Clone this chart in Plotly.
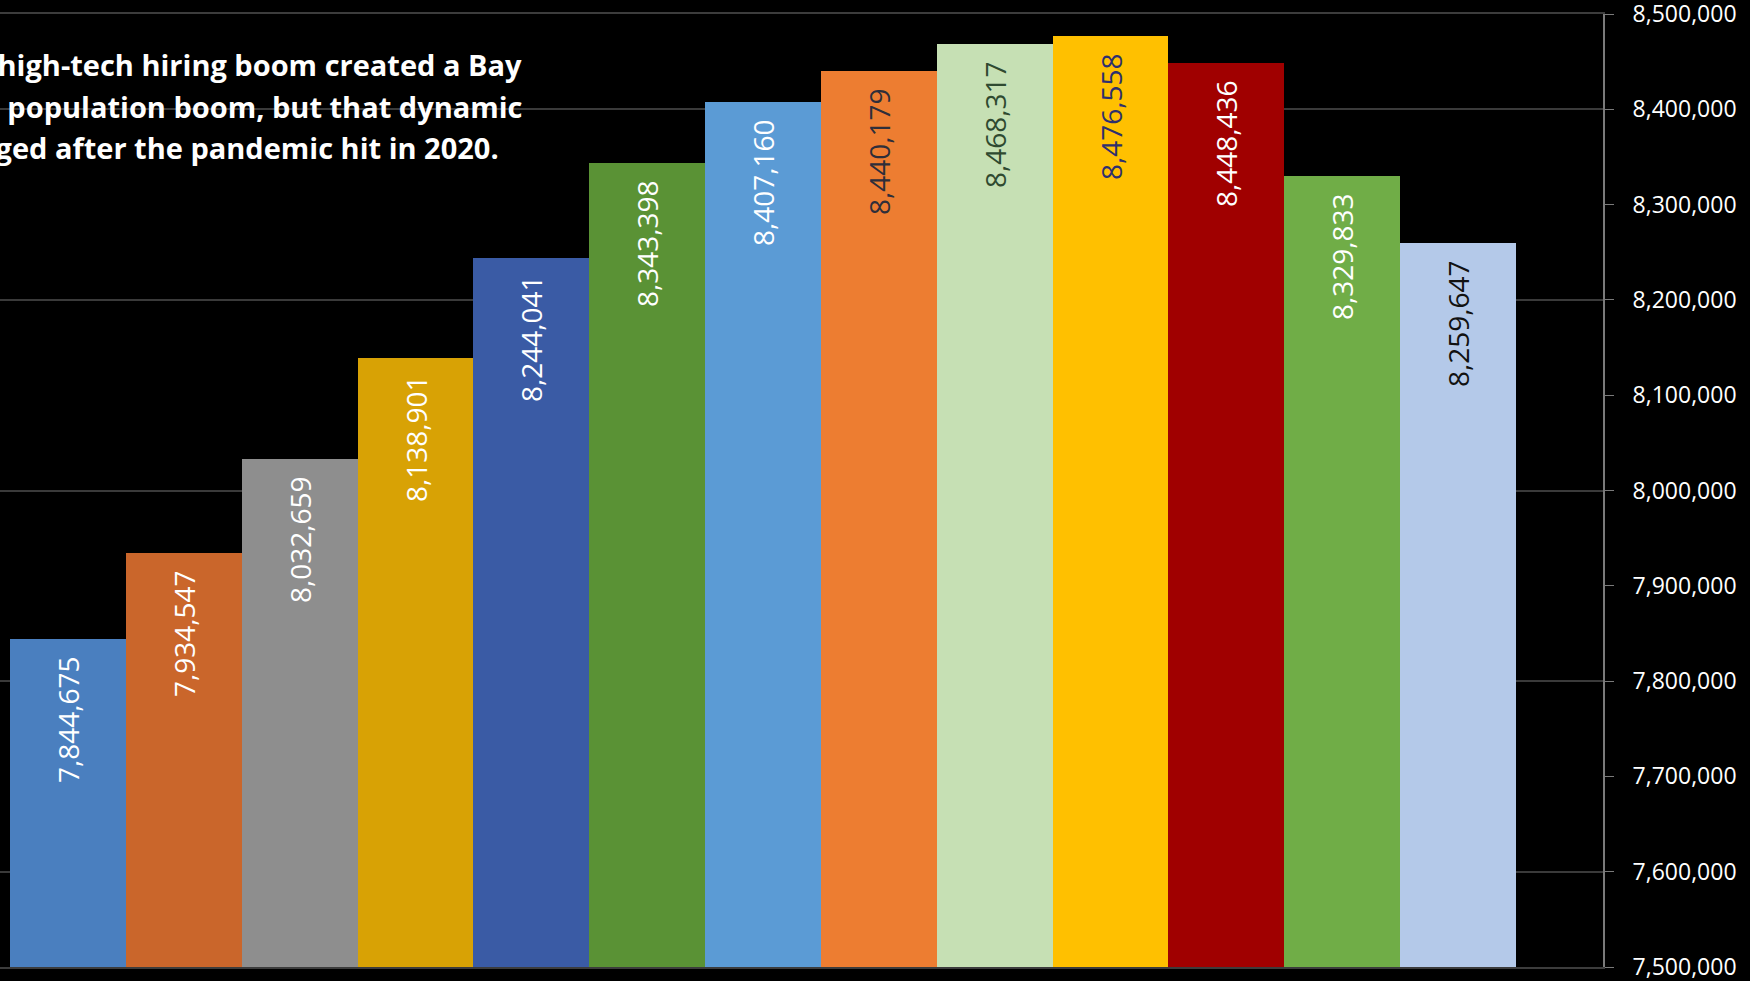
import plotly.graph_objects as go

# Bay Area population by year
years = [2010, 2011, 2012, 2013, 2014, 2015, 2016, 2017, 2018, 2019, 2020, 2021, 2022]
population = [7844675, 7934547, 8032659, 8138901, 8244041, 8343398, 8407160,
              8440179, 8468317, 8476558, 8448436, 8329833, 8259647]
bar_colors = ["#4A7FBF", "#CA662B", "#8E8E8E", "#D8A205", "#3A5BA5", "#5A9235", "#5B9BD5",
              "#ED7D31", "#C6E0B4", "#FFC000", "#A00000", "#70AD47", "#B4C9E9"]
label_colors = ["#FFFFFF", "#FFFFFF", "#FFFFFF", "#FFFFFF", "#FFFFFF", "#FFFFFF", "#FFFFFF",
                "#2E2E3A", "#2F4A30", "#2E2F6E", "#FFFFFF", "#FFFFFF", "#111111"]
y_ticks = list(range(7500000, 8500001, 100000))
y_tick_text = [f"{v:,}" for v in y_ticks]
caption_lines = ["A high-tech hiring boom created a Bay",
                 "Area population boom, but that dynamic",
                 "changed after the pandemic hit in 2020."]

W, H = 1750, 981
M_L, M_R, M_T, M_B = 0, 147, 14, 14
plot_w = W - M_L - M_R
plot_h = H - M_T - M_B

fig = go.Figure()
fig.add_trace(go.Bar(
    x=years,
    y=population,
    marker=dict(color=bar_colors, line=dict(width=0)),
    text=[f"{v:,}\u00a0\u00a0" for v in population],
    textposition="inside",
    insidetextanchor="end",
    textangle=-90,
    textfont=dict(family="Open Sans", size=28, color=label_colors),
    constraintext="none",
    hoverinfo="skip",
    yaxis="y",
))
# invisible trace carrying the gridline axis
fig.add_trace(go.Scatter(x=[years[0]], y=[population[0]], mode="markers",
                         marker=dict(opacity=0), yaxis="y2", showlegend=False,
                         hoverinfo="skip"))

y_range = [7500000, 8500000]
fig.update_layout(
    width=W, height=H,
    margin=dict(l=M_L, r=M_R, t=M_T, b=M_B, autoexpand=False),
    paper_bgcolor="#000000",
    plot_bgcolor="#000000",
    showlegend=False,
    bargap=0,
    xaxis=dict(
        range=[2009.4137, 2023.251], automargin=False,
        showticklabels=False, showgrid=False, zeroline=False, ticks="",
        showline=True, mirror=True, linecolor="#3C3C3C", linewidth=2,
    ),
    yaxis=dict(
        range=y_range, side="right", automargin=False,
        tickvals=y_ticks, ticktext=y_tick_text,
        showgrid=False, zeroline=False,
        showline=True, linecolor="#7A7A7A", linewidth=2,
        ticks="outside", ticklen=9, tickwidth=1, tickcolor="#7A7A7A",
        ticklabelstandoff=14, ticklabeloverflow="allow",
        tickfont=dict(family="Open Sans", size=23, color="#FFFFFF"),
    ),
    yaxis2=dict(
        range=y_range, overlaying="y", side="left", automargin=False,
        tick0=7600000, dtick=200000,
        showgrid=True, gridcolor="#3A3A3A", gridwidth=2,
        showticklabels=False, zeroline=False, showline=False, ticks="",
    ),
)

line_right_px = [524, 524, 501]
line_center_px = [64, 106, 147]
for text, rx, cy in zip(caption_lines, line_right_px, line_center_px):
    fig.add_annotation(
        text=text, xref="paper", yref="paper",
        x=(rx - M_L) / plot_w, y=(H - M_B - cy) / plot_h,
        xanchor="right", yanchor="middle", showarrow=False,
        font=dict(family="Open Sans", size=29, color="#FFFFFF", weight="bold"),
    )

fig.write_html("out.html")
